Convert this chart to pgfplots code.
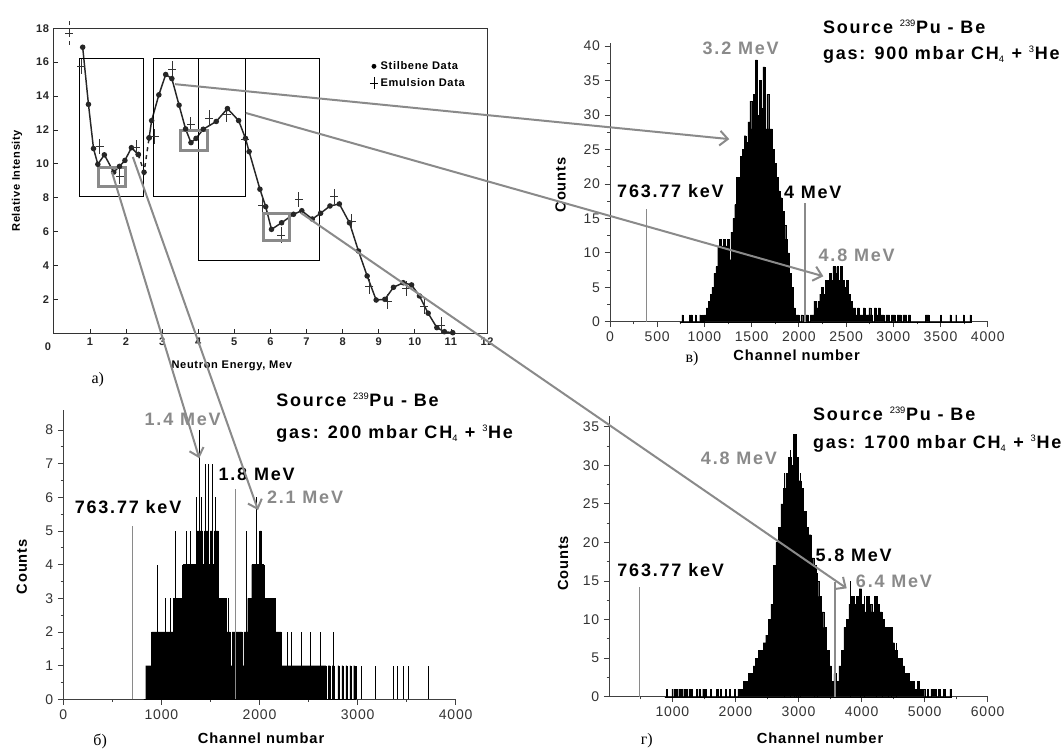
\documentclass[border=0pt]{standalone}
\usepackage{fontspec}
\setmainfont{Liberation Sans}
\newfontfamily\serif{Liberation Serif}
\newfontfamily\tickf[LetterSpace=6]{Liberation Sans}
\newfontfamily\bigf[LetterSpace=10]{Liberation Sans}
\usepackage{pgfplots}
\pgfplotsset{compat=1.18}
\usetikzlibrary{arrows.meta}
\definecolor{gr}{HTML}{8A8A8A}
\newcommand\tickfont{\tickf\fontsize{10.5}{12}\selectfont}
\newcommand\labfont{\tickf\bfseries\fontsize{11}{13}\selectfont}
\newcommand\bigfont{\bigf\bfseries\fontsize{13.5}{16}\selectfont}
\newcommand\scanfont{\tickf\bfseries\fontsize{8.3}{10}\selectfont}
\newcommand\sups[1]{\textsuperscript{\normalfont\fontsize{7}{8}\selectfont #1}}
\newcommand\subs[1]{\textsubscript{\normalfont\fontsize{7}{8}\selectfont #1}}
\newcommand\subfont{\serif\fontsize{12}{14}\selectfont}
\pgfplotsset{
  hist/.style={scale only axis, axis x line*=bottom, axis y line*=left,
    axis line style={-, black!75, line width=0.6pt}, tick align=outside,
    major tick length=4pt, minor tick length=2pt,
    every tick/.style={black!75, line width=0.6pt},
    ticklabel style={font=\tickfont, text=black!80},
    /pgf/number format/assume math mode=true,
    /pgf/number format/set thousands separator={},
    scaled ticks=false, ymin=0, clip=false,
    xlabel style={font=\labfont, anchor=center},
    ylabel style={font=\labfont, anchor=center}},
  hbar/.style={const plot, fill=black, draw=black, line width=0.2pt, mark=none},
  spike/.style={ycomb, black, line width=0.5pt, mark=none},
  marker/.style={ycomb, gr, line width=1pt, mark=none}
}
\begin{document}
\begin{tikzpicture}
\path[use as bounding box] (0,0) rectangle (796.5pt,-563.25pt);

% ---------------- panel a
\begin{axis}[name=A, at={(40.35pt,-249.9pt)}, anchor=south west, scale only axis,
  width=324.9pt, height=228.7pt, xmin=0, xmax=12, ymin=0, ymax=18, clip=false,
  xtick={1,...,12}, ytick={2,4,...,18}, tick pos=left, tick align=inside,
  major tick length=3pt, every tick/.style={black!85, line width=0.6pt},
  axis line style={black!80, line width=0.7pt},
  ticklabel style={font=\scanfont, text=black!85},
  /pgf/number format/assume math mode=true,
  xlabel={Neutron Energy, Mev}, ylabel={Relative Intensity},
  xlabel style={font=\scanfont, at={(axis description cs:0.411,-0.108)}, anchor=center},
  ylabel style={font=\scanfont, at={(axis description cs:-0.085,0.5)}, anchor=center},
  legend style={draw=none, fill=none, font=\scanfont, at={(axis description cs:0.72,0.91)}, anchor=north west, row sep=1pt},
  legend cell align=left]
\addlegendimage{only marks, mark=*, mark size=1.6pt, black}
\addlegendimage{only marks, mark=+, mark size=3pt, black, mark options={yscale=1.5}}
\legend{Stilbene Data, Emulsion Data}
\addplot[black!85, line width=1.1pt, mark=*, mark size=1.5pt] coordinates {
(0.80,16.88)(0.96,13.51)(1.10,10.9)(1.22,9.97)(1.40,10.53)(1.66,9.51)(1.82,9.85)(1.97,10.2)(2.15,10.95)(2.34,10.55)};
\addplot[black!85, line width=1.1pt, dashed, mark=*, mark size=1.5pt, mark options={solid}] coordinates {
(2.34,10.55)(2.50,9.5)(2.64,11.53)};
\addplot[black!85, line width=1.1pt, mark=*, mark size=1.5pt] coordinates {
(2.64,11.53)(2.71,12.55)(2.91,14.07)(3.10,15.27)(3.27,15.03)(3.47,13.46)(3.65,12.06)(3.80,11.25)(3.94,11.5)(4.14,12.04)(4.50,12.5)(4.81,13.26)(5.12,12.55)(5.31,11.5)(5.41,10.72)(5.71,8.5)(5.87,7.47)(6.03,6.13)(6.31,6.52)(6.64,7.02)(6.87,7.23)(7.16,6.74)(7.39,7.08)(7.65,7.51)(7.91,7.63)(8.19,6.52)(8.44,4.85)(8.68,3.38)(8.93,1.96)(9.17,2.0)(9.41,2.71)(9.68,2.98)(9.91,2.85)(10.13,2.2)(10.37,1.18)(10.61,0.33)(10.82,0.09)(11.05,0.03)};
\addplot[only marks, black!80, mark=-, mark size=3pt, line width=0.6pt,
  error bars/.cd, y dir=both, y explicit, error mark=none,
  error bar style={line width=0.6pt, black!80}] coordinates {
(0.76,15.74) +- (0,0.45) (1.27,11.0) +- (0,0.45) (1.82,9.24) +- (0,0.45) (2.28,10.95) +- (0,0.45)
(2.79,11.6) +- (0,0.45) (3.28,15.6) +- (0,0.45) (3.79,12.3) +- (0,0.45) (4.30,12.7) +- (0,0.45)
(4.79,12.9) +- (0,0.45) (5.30,11.45) +- (0,0.45) (5.78,7.57) +- (0,0.45) (6.30,5.8) +- (0,0.45)
(6.78,7.9) +- (0,0.45) (7.76,8.06) +- (0,0.45) (8.25,6.59) +- (0,0.45) (8.74,2.75) +- (0,0.45)
(9.25,1.86) +- (0,0.45) (9.76,2.65) +- (0,0.45) (10.26,1.6) +- (0,0.45) (10.73,0.48) +- (0,0.45)};
\addplot[only marks, black!80, mark=-, mark size=3pt, line width=0.6pt,
  error bars/.cd, y dir=both, y explicit, error mark=none,
  error bar style={line width=0.6pt, black!80, dashed}] coordinates {(0.42,17.7) +- (0,0.75)};
% boxes
\draw[black, line width=0.7pt] (axis cs:0.70,8.1) rectangle (axis cs:2.48,16.23);
\draw[black, line width=0.7pt] (axis cs:2.75,8.1) rectangle (axis cs:5.31,16.23);
\draw[black, line width=0.7pt] (axis cs:4.02,4.32) rectangle (axis cs:7.35,16.23);
\draw[gr, line width=2.2pt] (axis cs:1.25,8.67) rectangle (axis cs:1.99,9.78);
\draw[gr, line width=2.2pt] (axis cs:3.52,10.78) rectangle (axis cs:4.27,11.94);
\draw[gr, line width=2.2pt] (axis cs:5.80,5.46) rectangle (axis cs:6.54,7.06);
\node[font=\scanfont, text=black!85] at (axis cs:-0.16,-0.81) {0};
\node[font=\subfont] at (axis cs:1.22,-2.76) {a)};
\coordinate (s1) at (axis cs:1.61,9.52);
\coordinate (s2) at (axis cs:2.19,10.4);
\coordinate (s3) at (axis cs:3.36,14.7);
\coordinate (s4) at (axis cs:5.32,13.0);
\coordinate (s5) at (axis cs:6.84,7.11);
\end{axis}

% ---------------- panel v (top right)
\begin{axis}[hist, at={(457.5pt,-241.28pt)}, anchor=south west,
  width=283.3pt, height=209.3pt, xmin=0, xmax=4000, ymax=40.5,
  xtick={0,500,...,4000}, minor x tick num=1, ytick={0,5,...,40}, minor y tick num=1,
  xlabel={Channel number}, ylabel={Counts},
  xlabel style={at={(axis description cs:0.494,-0.119)}},
  ylabel style={at={(axis description cs:-0.131,0.49)}}]
\addplot[hbar] coordinates {
(740,0)(760,1)(770,0)(840,1)(850,0)(860,1)(870,0)(900,1)(910,0)(950,1)(960,0)(980,1)(990,0)
(1000,1)(1020,2)(1040,3)(1060,4)(1080,5)(1100,7)(1120,8)(1140,11)(1160,12)(1180,11)(1200,12)(1220,11)(1240,12)(1260,9)(1280,13)(1300,15)(1320,17)(1340,21)(1360,21)(1380,24)(1400,25)(1420,27)(1440,26)(1460,29)(1480,32)(1500,28)(1520,33)(1540,38)(1560,30)(1580,35)(1600,31)(1620,37)(1640,28)(1660,33)(1680,28)(1700,28)(1720,25)(1740,23)(1760,21)(1780,19)(1800,18)(1820,16)(1840,14)(1860,12)(1880,10)(1900,7)(1920,5)(1940,2)(1960,1)(1980,1)(2000,0)(2020,1)(2040,0)(2060,1)(2080,1)(2100,0)(2120,1)(2140,1)(2160,3)(2180,2)(2200,3)(2220,4)(2240,5)(2260,4)(2280,6)(2300,6)(2320,7)(2340,6)(2360,8)(2380,7)(2400,8)(2420,6)(2440,8)(2460,6)(2480,5)(2500,6)(2520,4)(2540,3)(2560,2)(2580,2)(2600,1)(2620,2)(2640,1)(2660,1)(2680,2)(2700,1)(2720,1)(2740,2)(2760,1)(2780,0)(2800,2)(2820,1)(2840,2)(2860,1)(2880,1)(2900,0)(2920,1)(2940,1)(2960,0)(2980,1)(3000,1)(3020,0)(3040,1)(3060,1)(3080,0)(3100,1)(3120,1)(3140,0)(3160,1)(3180,0)(3340,1)(3380,0)(3500,1)(3510,0)(3600,1)(3610,0)(3660,1)(3670,0)(3740,1)(3750,0)(3810,1)(3820,0)} \closedcycle;
\addplot[marker] coordinates {(388,16.3)(2065,17.2)};
\node[font=\bigfont, anchor=west] at (axis cs:2206,42.8) {Source \sups{239}Pu - Be};
\node[font=\bigfont, anchor=west] at (axis cs:2206,38.7) {gas: 900 mbar CH\subs{4} + \sups{3}He};
\node[font=\bigfont, text=gr] at (axis cs:1384,39.7) {3.2 MeV};
\node[font=\bigfont] at (axis cs:640,18.9) {763.77 keV};
\node[font=\bigfont] at (axis cs:2147,18.7) {4 MeV};
\node[font=\bigfont, text=gr] at (axis cs:2612,9.7) {4.8 MeV};
\node[font=\subfont] at (axis description cs:0.217,-0.131) {в)};
\coordinate (t3) at (axis cs:1263,26.5);
\coordinate (t4) at (axis cs:2259,6.6);
\end{axis}

% ---------------- panel b (bottom left)
\begin{axis}[hist, at={(47.48pt,-524.48pt)}, anchor=south west,
  width=294.3pt, height=217.2pt, xmin=0, xmax=4000, ymax=8.6,
  xtick={0,1000,...,4000}, minor x tick num=1, ytick={0,...,8}, minor y tick num=1,
  xlabel={Channel numbar}, ylabel={Counts},
  xlabel style={at={(axis description cs:0.504,-0.133)}},
  ylabel style={at={(axis description cs:-0.106,0.458)}}]
\addplot[hbar] coordinates {
(820,0)(840,1)(860,1)(880,1)(900,2)(920,2)(940,2)(960,2)(980,2)(1000,2)(1020,2)(1040,2)(1060,2)(1080,2)(1100,2)(1120,3)(1140,3)(1160,3)(1180,3)(1200,3)(1220,4)(1240,3)(1260,4)(1280,4)(1300,4)(1320,4)(1340,4)(1360,5)(1380,5)(1400,5)(1420,4)(1440,5)(1460,5)(1480,4)(1500,5)(1520,4)(1540,5)(1560,5)(1580,3)(1600,3)(1620,3)(1640,3)(1660,2)(1680,2)(1700,1)(1720,2)(1740,2)(1760,2)(1780,2)(1800,2)(1820,1)(1840,2)(1860,2)(1880,3)(1900,3)(1920,4)(1940,4)(1960,4)(1980,4)(2000,5)(2020,4)(2040,3)(2060,3)(2080,3)(2100,3)(2120,3)(2140,3)(2160,2)(2180,2)(2200,2)(2220,1)(2680,0)(2700,1)(2720,0)(2740,1)(2760,0)(2800,1)(2810,0)(2840,1)(2850,0)(2880,1)(2890,0)(2920,1)(2930,0)(2960,1)(2970,0)} \closedcycle;
\addplot[spike] coordinates {(962,4)(1036,3)(1094,3)(1145,5)(1216,4)(1257,5)(1298,5)(1359,6)(1386,8)(1410,6)(1444,7)(1478,7)(1522,7)(1546,6)(1563,5)(1682,3)(1869,5)(1971,6)(2049,4)(2209,2)(2283,2)(2328,2)(2430,2)(2515,2)(2616,2)(2752,2)(2990,1)(3041,1)(3177,1)(3364,1)(3408,1)(3466,1)(3517,1)(3721,1)};
\addplot[marker] coordinates {(707,5.15)(1757,6.24)};
\node[font=\bigfont, anchor=west] at (axis cs:2124,8.89) {Source \sups{239}Pu - Be};
\node[font=\bigfont, anchor=west] at (axis cs:2124,7.9) {gas: 200 mbar CH\subs{4} + \sups{3}He};
\node[font=\bigfont, text=gr] at (axis cs:1217,8.3) {1.4 MeV};
\node[font=\bigfont] at (axis cs:1971,6.69) {1.8 MeV};
\node[font=\bigfont, text=gr] at (axis cs:2464,6.0) {2.1 MeV};
\node[font=\bigfont] at (axis cs:660,5.72) {763.77 keV};
\node[font=\subfont] at (axis description cs:0.094,-0.145) {б)};
\coordinate (t1) at (axis cs:1386,7.16);
\coordinate (t2) at (axis cs:1985,5.62);
\end{axis}

% ---------------- panel g (bottom right)
\begin{axis}[hist, at={(456.98pt,-522.53pt)}, anchor=south west,
  width=283.8pt, height=210.6pt, xmin=0, xmax=6000, ymax=36.4,
  xtick={1000,2000,...,6000}, minor xtick={500,1500,...,5500}, ytick={0,5,...,35}, minor y tick num=1,
  xlabel={Channel number}, ylabel={Counts},
  xlabel style={at={(axis description cs:0.557,-0.148)}},
  ylabel style={at={(axis description cs:-0.122,0.475)}}]
\addplot[hbar] coordinates {
(880,0)(900,1)(920,0)(990,1)(1000,0)(1020,1)(1040,0)(1060,1)(1080,0)(1100,1)(1120,0)(1140,1)(1160,0)(1180,1)(1200,0)(1220,1)(1240,0)(1260,1)(1280,0)(1300,1)(1320,0)(1380,1)(1400,0)(1420,1)(1440,0)(1480,1)(1500,0)(1520,1)(1540,0)(1600,1)(1620,0)(1700,1)(1720,0)(1760,1)(1780,0)(1840,1)(1860,0)(1900,1)(1920,0)(1980,1)(2000,0)
(2040,1)(2080,1)(2120,2)(2160,2)(2200,3)(2240,3)(2280,4)(2320,5)(2360,6)(2400,6)(2440,7)(2480,8)(2520,10)(2560,12)(2600,17)(2640,20)(2680,22)(2720,25)(2760,27)(2800,29)(2840,31)(2880,30)(2920,34)(2960,31)(3000,28)(3040,27)(3080,24)(3120,22)(3160,21)(3200,18)(3240,17)(3280,15)(3320,13)(3360,11)(3400,9)(3440,6)(3480,4)(3520,2)(3560,3)(3600,2)
(3640,4)(3680,6)(3720,9)(3760,10)(3800,12)(3840,13)(3880,12)(3920,13)(3960,14)(4000,12)(4040,11)(4080,13)(4120,12)(4160,11)(4200,13)(4240,12)(4280,11)(4320,10)(4360,9)(4400,8)(4440,9)(4480,7)(4520,6)(4560,5)(4600,5)(4640,4)(4680,3)(4720,3)(4760,2)(4800,2)(4840,1)(4880,2)(4920,1)(4960,1)(5000,0)(5040,1)(5060,0)(5100,1)(5140,1)(5180,0)(5220,1)(5240,0)(5300,1)(5320,0)(5400,1)(5420,0)} \closedcycle;
\addplot[spike] coordinates {(2780,29)(2870,32)(2930,34)(2960,33)(3000,30)(3030,29)(3250,17)(3300,16)(3820,15)(3980,14)(4050,13)(4240,13)(4330,11)(4420,9)(4470,9)(4550,7)};
\addplot[marker] coordinates {(477,14.26)(3579,14.9)};
\node[font=\bigfont, anchor=west] at (axis cs:3155,36.7) {Source \sups{239}Pu - Be};
\node[font=\bigfont, anchor=west] at (axis cs:3155,32.8) {gas: 1700 mbar CH\subs{4} + \sups{3}He};
\node[font=\bigfont, text=gr] at (axis cs:2056,30.9) {4.8 MeV};
\node[font=\bigfont] at (axis cs:3875,18.3) {5.8 MeV};
\node[font=\bigfont, text=gr] at (axis cs:4514,14.9) {6.4 MeV};
\node[font=\bigfont] at (axis cs:973,16.4) {763.77 keV};
\node[font=\subfont] at (axis description cs:0.099,-0.158) {г)};
\coordinate (t5) at (axis cs:3764,14.05);
\end{axis}

% arrows
\foreach \i in {1,...,5}{
  \draw[gr, line width=1.5pt, -{Straight Barb[length=6pt,width=11pt]}] (s\i) -- (t\i);
}
\end{tikzpicture}
\end{document}
